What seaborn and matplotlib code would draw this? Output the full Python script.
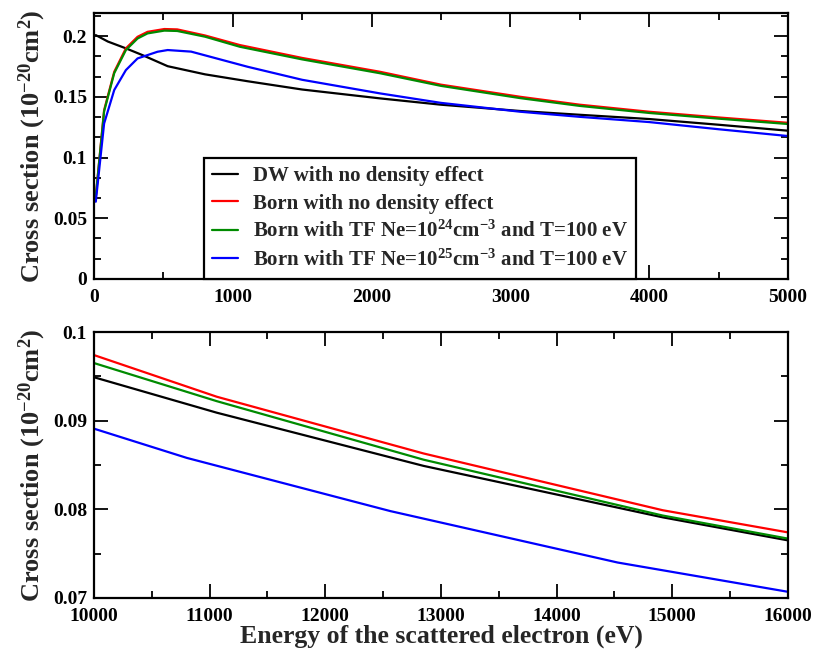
import pandas as pd
import seaborn as sns
import matplotlib
import matplotlib.pyplot as plt
from matplotlib.ticker import MultipleLocator

matplotlib.use("Agg")

# Données (énergie en eV, section efficace en 1e-20 cm^2)
labels = [
    "DW with no density effect",
    "Born with no density effect",
    "Born with TF Ne=10$^{24}$cm$^{-3}$ and T=100 eV",
    "Born with TF Ne=10$^{25}$cm$^{-3}$ and T=100 eV",
]
colors = ["#000000", "#ff0000", "#008b00", "#0000ff"]

# panneau du haut
e_dw = [13, 100, 230, 350, 531, 800, 1108, 1500, 2061, 2500, 3072, 3500, 4000, 4500, 5000]
s_dw = [0.2008, 0.1955, 0.1899, 0.1843, 0.1752, 0.1685, 0.1628, 0.1560, 0.1487, 0.1435,
        0.1383, 0.1352, 0.1317, 0.1270, 0.1221]

e_born = [13, 73, 146, 230, 314, 386, 507, 600, 800, 1051, 1500, 2061, 2500, 3072, 3500,
          4000, 4500, 5000]
s_born = [0.0677, 0.1390, 0.1706, 0.1899, 0.1994, 0.2035, 0.2058, 0.2055, 0.2005, 0.1926,
          0.1820, 0.1706, 0.1600, 0.1500, 0.1435, 0.1377, 0.1330, 0.1286]
s_tf24 = [0.0677, 0.1380, 0.1695, 0.1885, 0.1980, 0.2022, 0.2045, 0.2042, 0.1995, 0.1912,
          0.1808, 0.1694, 0.1590, 0.1489, 0.1425, 0.1367, 0.1320, 0.1276]

e_tf25 = [13, 73, 146, 230, 314, 458, 531, 700, 1108, 1500, 2061, 2500, 3072, 3500, 4000,
          4500, 5000]
s_tf25 = [0.0636, 0.1280, 0.1556, 0.1720, 0.1816, 0.1871, 0.1885, 0.1872, 0.1747, 0.1640,
          0.1528, 0.1450, 0.1377, 0.1335, 0.1292, 0.1233, 0.1177]

# panneau du bas
e_hi = [10000, 11062, 12850, 14917, 16000]
s_dw_hi = [0.0949, 0.0909, 0.0849, 0.0791, 0.0765]
s_born_hi = [0.0974, 0.0927, 0.0863, 0.0799, 0.0774]
s_tf24_hi = [0.0965, 0.0922, 0.0856, 0.0793, 0.0767]
e_tf25_hi = [10000, 10803, 12563, 14528, 16000]
s_tf25_hi = [0.0891, 0.0858, 0.0798, 0.0740, 0.0707]

sns.set_style("ticks")
plt.rcParams["font.family"] = ["Liberation Serif", "DejaVu Serif"]
plt.rcParams["font.weight"] = "bold"
plt.rcParams["mathtext.fontset"] = "custom"
plt.rcParams["mathtext.rm"] = "Liberation Serif:bold"
plt.rcParams["mathtext.it"] = "Liberation Serif:bold"
plt.rcParams["mathtext.bf"] = "Liberation Serif:bold"
plt.rcParams["mathtext.default"] = "rm"

fig = plt.figure(figsize=(8.15, 6.5), dpi=100)
ax1 = fig.add_axes([0.1153, 0.5708, 0.8515, 0.4092])
ax2 = fig.add_axes([0.1153, 0.0800, 0.8515, 0.4092])

haut = [(e_dw, s_dw), (e_born, s_born), (e_born, s_tf24), (e_tf25, s_tf25)]
bas = [(e_hi, s_dw_hi), (e_hi, s_born_hi), (e_hi, s_tf24_hi), (e_tf25_hi, s_tf25_hi)]

for (x, y), lab, c in zip(haut, labels, colors):
    sns.lineplot(x=x, y=y, ax=ax1, color=c, label=lab, linewidth=1.6,
                 estimator=None, sort=False)
for (x, y), c in zip(bas, colors):
    sns.lineplot(x=x, y=y, ax=ax2, color=c, linewidth=1.6, estimator=None, sort=False)

ax1.set_xlim(0, 5000)
ax1.set_ylim(0, 0.219)
ax1.xaxis.set_major_locator(MultipleLocator(1000))
ax1.xaxis.set_minor_locator(MultipleLocator(500))
ax1.set_yticks([0, 0.05, 0.1, 0.15, 0.2], ["0", "0.05", "0.1", "0.15", "0.2"])
ax1.yaxis.set_minor_locator(MultipleLocator(0.05 / 3))

ax2.set_xlim(10000, 16000)
ax2.set_ylim(0.07, 0.1)
ax2.xaxis.set_major_locator(MultipleLocator(1000))
ax2.xaxis.set_minor_locator(MultipleLocator(500))
ax2.set_yticks([0.07, 0.08, 0.09, 0.1], ["0.07", "0.08", "0.09", "0.1"])
ax2.yaxis.set_minor_locator(MultipleLocator(0.005))

ylab = "Cross section (10$^{-20}$cm$^{2}$)"
for ax in (ax1, ax2):
    for sp in ax.spines.values():
        sp.set_visible(True)
        sp.set_linewidth(1.6)
        sp.set_color("black")
    ax.tick_params(which="both", direction="in", top=True, right=True,
                   width=1.3, labelsize=14, colors="black")
    ax.tick_params(which="major", length=10, pad=5)
    ax.tick_params(axis="x", which="major", pad=7)
    ax.tick_params(which="minor", length=5)
    for t in ax.get_xticklabels() + ax.get_yticklabels():
        t.set_fontweight("bold")
    ax.set_ylabel(ylab, fontsize=19, fontweight="bold")
    ax.yaxis.set_label_coords(-0.066, 0.5)
    ax.set_xlabel("")

ax2.set_xlabel("Energy of the scattered electron (eV)", fontsize=18.5,
               fontweight="bold", labelpad=0)

leg = ax1.legend(loc="lower left", bbox_to_anchor=(0.1585, 0.0), borderaxespad=0,
                 frameon=True, fancybox=False, fontsize=15, handlelength=1.25,
                 handletextpad=0.7, labelspacing=0.35, borderpad=0.4)
leg.get_frame().set_edgecolor("black")
leg.get_frame().set_linewidth(1.6)
leg.get_frame().set_alpha(1)
for t in leg.get_texts():
    t.set_fontweight("bold")

fig.savefig("out.png", dpi=100)
